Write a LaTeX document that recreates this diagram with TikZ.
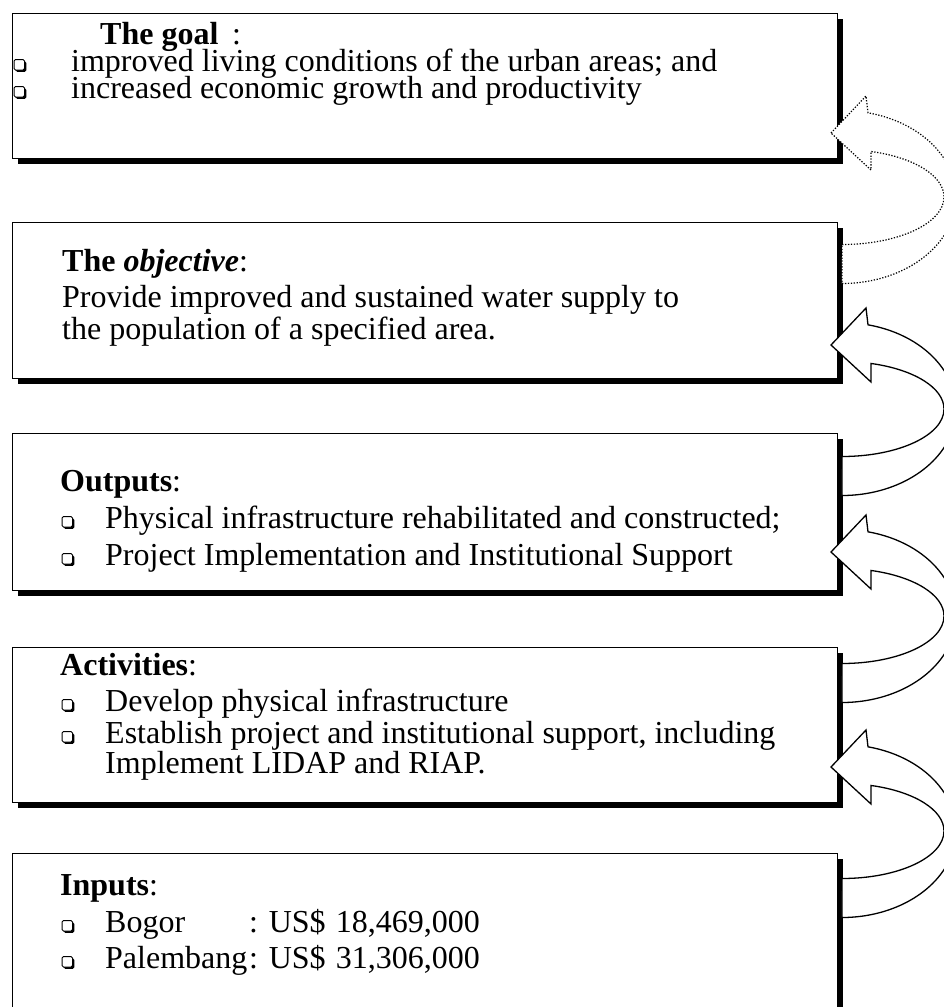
\documentclass[tikz,border=0pt]{standalone}
\usepackage{fontspec}
\setmainfont{Liberation Serif}
\usetikzlibrary{shadows}

\tikzset{
  every picture/.style={x=1pt,y=-1pt},
  box/.style={draw=black, line width=1.4pt, fill=white, rectangle,
    anchor=north west, inner sep=0pt, minimum width=825pt,
    drop shadow={shadow xshift=5.5pt, shadow yshift=-5.5pt, fill=black, opacity=1}},
  txt/.style={anchor=base west, inner sep=0pt, font=\fontsize{32}{37}\selectfont},
  arrowline/.style={draw=black, fill=white, line width=1.3pt, line join=miter},
  dotline/.style={arrowline, line width=1.2pt, dash pattern=on 1.3pt off 1.6pt},
  % hollow square bullet with a small shadow; origin on the text baseline
  qbullet/.pic={
    \fill[black, rounded corners=1.5pt] (1.8,-9.7) rectangle (12.3,0.8);
    \filldraw[fill=white, draw=black, line width=1pt, rounded corners=1.5pt] (0,-11.5) rectangle (10.5,-1);
  },
  % curved block arrow: origin at the tail's x and the tip's height
  bend arrow/.pic={
    \path[pic actions] (-11,0) -- (24,-37) -- (26,-20.2)
      arc[start angle=-76.8, end angle=90, x radius=114, y radius=86.5]
      -- (0,111.5)
      arc[start angle=90, end angle=-73.5, x radius=102, y radius=47.5]
      -- (29,37) -- cycle;
  }
}

\begin{document}
\begin{tikzpicture}
\useasboundingbox (0,0) rectangle (944,1007);
\fill[white] (0,0) rectangle (944,1007);
\clip (0,0) rectangle (944,1007);

% the five stacked boxes
\node[box, minimum height=145pt] (goal) at (12,13) {};
\node[box, minimum height=156pt] (objective) at (12,222) {};
\node[box, minimum height=157pt] (outputs) at (12,433) {};
\node[box, minimum height=155pt] (activities) at (12,647) {};
\node[box, minimum height=210pt] (inputs) at (12,853) {};

% goal
\node[txt] (goalhead) at (100,44) {\textbf{The goal}};
\node[txt] (goalcolon) at (232,44) {:};
\pic at (14,71) {qbullet};
\node[txt] (goalone) at (71,71) {improved living conditions of the urban areas; and};
\pic at (14,98) {qbullet};
\node[txt] (goaltwo) at (71,98) {increased economic growth and productivity};

% objective
\node[txt] (objhead) at (62,271) {\textbf{The \textit{objective}}:};
\node[txt] (objone) at (62,307) {Provide improved and sustained water supply to};
\node[txt] (objtwo) at (62,339) {the population of a specified area.};

% outputs
\node[txt] (outhead) at (60,491) {\textbf{Outputs}:};
\pic at (62,528) {qbullet};
\node[txt] (outone) at (105,528) {Physical infrastructure rehabilitated and constructed;};
\pic at (62,565) {qbullet};
\node[txt] (outtwo) at (105,565) {Project Implementation and Institutional Support};

% activities
\node[txt] (acthead) at (60,675) {\textbf{Activities}:};
\pic at (62,711) {qbullet};
\node[txt] (actone) at (105,711) {Develop physical infrastructure};
\pic at (62,743) {qbullet};
\node[txt] (acttwo) at (105,743) {Establish project and institutional support, including};
\node[txt] (actthree) at (105,773) {Implement LIDAP and RIAP.};

% inputs
\node[txt] (inhead) at (60,895) {\textbf{Inputs}:};
\pic at (62,932) {qbullet};
\node[txt] (inone) at (105,932) {\makebox[144pt][l]{Bogor}: US\$\hspace{0.32em}18,469,000};
\pic at (62,968) {qbullet};
\node[txt] (intwo) at (105,968) {\makebox[144pt][l]{Palembang}: US\$\hspace{0.32em}31,306,000};

% curved arrows from each box up to the one above
\coordinate (arrA) at (842,133);
\coordinate (arrB) at (842,345);
\coordinate (arrC) at (842,552);
\coordinate (arrD) at (842,767);
\pic[dotline] at (arrA) {bend arrow};
\pic[arrowline] at (arrB) {bend arrow};
\pic[arrowline] at (arrC) {bend arrow};
\pic[arrowline] at (arrD) {bend arrow};
\end{tikzpicture}
\end{document}
